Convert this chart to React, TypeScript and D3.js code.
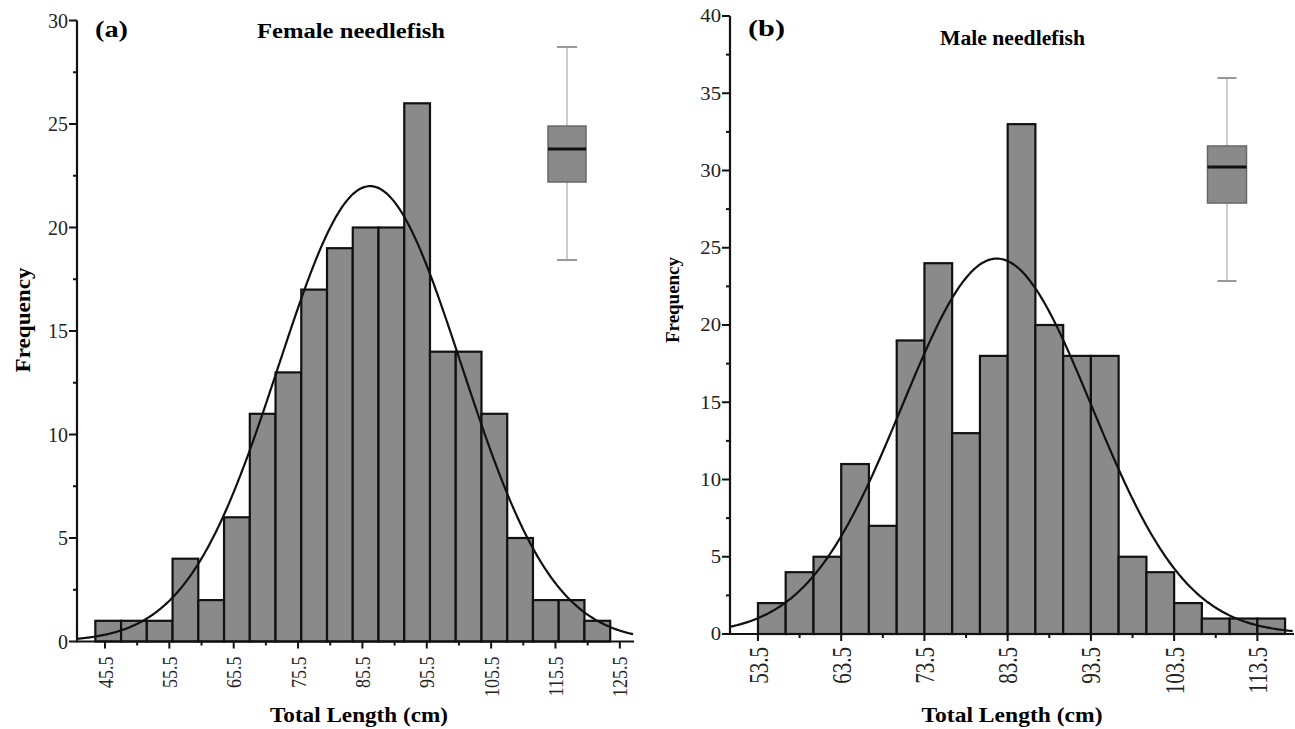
import React from 'react';
import * as d3 from 'd3';

// female histogram (bin edges in cm, counts)
const femaleEdges = [44, 48, 52, 56, 60, 64, 68, 72, 76, 80, 84, 88, 92, 96, 100, 104, 108, 112, 116, 120, 124];
const femaleCounts = [1, 1, 1, 4, 2, 6, 11, 13, 17, 19, 20, 20, 26, 14, 14, 11, 5, 2, 2, 1];
const femaleMajor = [45.5, 55.5, 65.5, 75.5, 85.5, 95.5, 105.5, 115.5, 125.5];
const femaleMinor = [50.5, 60.5, 70.5, 80.5, 90.5, 100.5, 110.5, 120.5];
const femaleYMajor = [0, 5, 10, 15, 20, 25, 30];
const femaleYMinor = [2.5, 7.5, 12.5, 17.5, 22.5, 27.5];
const femaleFit = { mean: 86.7, sd: 14.2, peak: 22 };
const femaleBox = { min: 44, q1: 73.3, median: 85.7, q3: 94.3, max: 124 };

// male histogram
const maleEdges = [53.5, 56.83, 60.17, 63.5, 66.83, 70.17, 73.5, 76.83, 80.17, 83.5, 86.83, 90.17, 93.5, 96.83, 100.17, 103.5, 106.83, 110.17, 113.5, 116.83];
const maleCounts = [2, 4, 5, 11, 7, 19, 24, 13, 18, 33, 20, 18, 18, 5, 4, 2, 1, 1, 1];
const maleMajor = [53.5, 63.5, 73.5, 83.5, 93.5, 103.5, 113.5];
const maleMinor = [58.5, 68.5, 78.5, 88.5, 98.5, 108.5];
const maleYMajor = [0, 5, 10, 15, 20, 25, 30, 35, 40];
const maleYMinor = [2.5, 7.5, 12.5, 17.5, 22.5, 27.5, 32.5, 37.5];
const maleFit = { mean: 82.2, sd: 11.4, peak: 24.3 };
const maleBox = { min: 53.5, q1: 77.7, median: 88.9, q3: 95.4, max: 116.5 };

const serif = '"Liberation Serif", "Times New Roman", serif';

const panels = [
  {
    edges: femaleEdges, counts: femaleCounts, major: femaleMajor, minor: femaleMinor,
    yMajor: femaleYMajor, yMinor: femaleYMinor, fit: femaleFit, box: femaleBox,
    xDomain: [41.15, 127.7], xRange: [77, 634], yDomain: [0, 30], yRange: [641.5, 20.5],
    boxX: 567, boxW: 38, capW: 20, boxRange: [260, 47],
    tag: '(a)', tagX: 95, tagY: 37, tagLen: 33,
    title: 'Female needlefish', titleX: 257, titleY: 38, titleLen: 188, titleSize: 20,
    freqX: 23, freqY: 320, freqLen: 105, freqSize: 21,
    xlabX: 359, xlabY: 722, xlabLen: 178,
    xtSize: 18, xtSx: 1.2, xtGap: 15, ytSize: 20, ytSx: 1.0,
  },
  {
    edges: maleEdges, counts: maleCounts, major: maleMajor, minor: maleMinor,
    yMajor: maleYMajor, yMinor: maleYMinor, fit: maleFit, box: maleBox,
    xDomain: [50.14, 117.9], xRange: [730, 1294], yDomain: [0, 40], yRange: [634, 16],
    boxX: 1227, boxW: 39, capW: 19, boxRange: [281, 78],
    tag: '(b)', tagX: 748, tagY: 36, tagLen: 37,
    title: 'Male needlefish', titleX: 940, titleY: 45, titleLen: 145, titleSize: 20,
    freqX: 672, freqY: 300, freqLen: 86, freqSize: 19,
    xlabX: 1012, xlabY: 722, xlabLen: 181,
    xtSize: 21, xtSx: 1.3, xtGap: 13, ytSize: 18, ytSx: 1.15,
  },
];

function Panel({ p }: { p: any }) {
  const x = d3.scaleLinear().domain(p.xDomain).range(p.xRange);
  const y = d3.scaleLinear().domain(p.yDomain).range(p.yRange);
  const by = d3.scaleLinear().domain([p.box.min, p.box.max]).range(p.boxRange);
  const y0 = y(0);
  const x0 = p.xRange[0];

  const curveX = d3.range(p.xDomain[0], p.xDomain[1], 0.2);
  const line = d3.line<number>()
    .x(d => x(d))
    .y(d => y(p.fit.peak * Math.exp(-0.5 * ((d - p.fit.mean) / p.fit.sd) ** 2)))
    .curve(d3.curveBasis);

  return (
    <g>
      {p.counts.map((c: number, i: number) => (
        <rect key={i} x={x(p.edges[i])} y={y(c)} width={x(p.edges[i + 1]) - x(p.edges[i])}
          height={y0 - y(c)} fill="#8a8a8a" stroke="#111" strokeWidth={2.2} />
      ))}
      <path d={line(curveX) || ''} fill="none" stroke="#111" strokeWidth={2.2} />

      {/* axes */}
      <line x1={x0} x2={x0} y1={y0 + 1} y2={y(p.yDomain[1])} stroke="#111" strokeWidth={2.2} />
      <line x1={x0} x2={p.xRange[1]} y1={y0} y2={y0} stroke="#111" strokeWidth={2.2} />
      {p.yMajor.map((t: number) => (
        <g key={'ym' + t}>
          <line x1={x0 - 8} x2={x0} y1={y(t)} y2={y(t)} stroke="#111" strokeWidth={2} />
          <text transform={`translate(${x0 - 9},${y(t)}) scale(${p.ytSx},1)`} textAnchor="end" dy="0.35em"
            fontFamily={serif} fontSize={p.ytSize} fill="#222">{t}</text>
        </g>
      ))}
      {p.yMinor.map((t: number) => (
        <line key={'yn' + t} x1={x0 - 4} x2={x0} y1={y(t)} y2={y(t)} stroke="#111" strokeWidth={2} />
      ))}
      {p.major.map((t: number) => (
        <g key={'xm' + t}>
          <line x1={x(t)} x2={x(t)} y1={y0} y2={y0 + 7} stroke="#111" strokeWidth={2} />
          <text transform={`translate(${x(t)},${y0 + p.xtGap}) scale(${p.xtSx},1) rotate(-90)`}
            textAnchor="end" dy="0.35em" fontFamily={serif} fontSize={p.xtSize} fill="#222">{t.toFixed(1)}</text>
        </g>
      ))}
      {p.minor.map((t: number) => (
        <line key={'xn' + t} x1={x(t)} x2={x(t)} y1={y0} y2={y0 + 4} stroke="#111" strokeWidth={2} />
      ))}

      {/* box plot */}
      <g>
        <line x1={p.boxX} x2={p.boxX} y1={by(p.box.min)} y2={by(p.box.max)} stroke="#bdbdbd" strokeWidth={1.5} />
        <line x1={p.boxX - p.capW / 2} x2={p.boxX + p.capW / 2} y1={by(p.box.max)} y2={by(p.box.max)} stroke="#999" strokeWidth={2} />
        <line x1={p.boxX - p.capW / 2} x2={p.boxX + p.capW / 2} y1={by(p.box.min)} y2={by(p.box.min)} stroke="#999" strokeWidth={2} />
        <rect x={p.boxX - p.boxW / 2} y={by(p.box.q3)} width={p.boxW} height={by(p.box.q1) - by(p.box.q3)}
          fill="#8a8a8a" stroke="#666" strokeWidth={1.5} />
        <line x1={p.boxX - p.boxW / 2} x2={p.boxX + p.boxW / 2} y1={by(p.box.median)} y2={by(p.box.median)} stroke="#111" strokeWidth={3} />
      </g>

      {/* labels */}
      <text x={p.tagX} y={p.tagY} fontFamily={serif} fontWeight="bold" fontSize={24}
        textLength={p.tagLen} lengthAdjust="spacingAndGlyphs">{p.tag}</text>
      <text x={p.titleX} y={p.titleY} fontFamily={serif} fontWeight="bold" fontSize={p.titleSize}
        textLength={p.titleLen} lengthAdjust="spacingAndGlyphs">{p.title}</text>
      <text transform={`translate(${p.freqX},${p.freqY}) rotate(-90)`} textAnchor="middle" dy="0.35em"
        fontFamily={serif} fontWeight="bold" fontSize={p.freqSize}
        textLength={p.freqLen} lengthAdjust="spacingAndGlyphs">Frequency</text>
      <text x={p.xlabX - p.xlabLen / 2} y={p.xlabY} fontFamily={serif} fontWeight="bold" fontSize={21}
        textLength={p.xlabLen} lengthAdjust="spacingAndGlyphs">Total Length (cm)</text>
    </g>
  );
}

export default function App() {
  return (
    <svg width={1295} height={729} style={{ position: 'absolute', left: 0, top: 0, background: '#fff' }}>
      <rect width={1295} height={729} fill="#fff" />
      {panels.map((p, i) => <Panel key={i} p={p} />)}
    </svg>
  );
}
